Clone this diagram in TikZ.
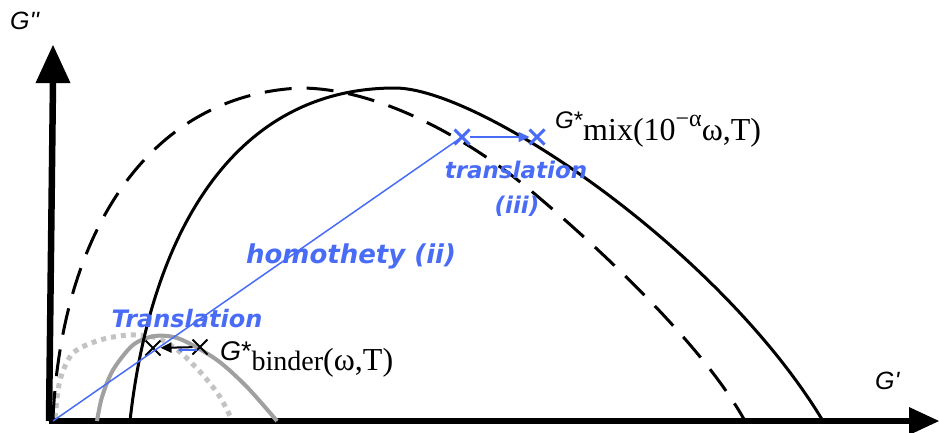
\documentclass[tikz,border=0pt]{standalone}
\usepackage{fontspec}
\setmainfont{Liberation Serif}
\newfontfamily\labelfont{DejaVu Sans}
\newfontfamily\gfont{Liberation Sans}
\usetikzlibrary{shapes.misc,arrows.meta}
\definecolor{bl}{RGB}{72,108,246}
\definecolor{grayA}{RGB}{160,160,160}
\definecolor{grayB}{RGB}{195,195,195}
\begin{document}
\begin{tikzpicture}[x=1pt,y=-1pt,
  axis/.style={line width=6.5pt},
  head/.style={fill=black},
  curve/.style={line width=3pt},
  dashcurve/.style={line width=3pt,dash pattern=on 27pt off 15pt},
  graysolid/.style={grayA,line width=4pt},
  graydot/.style={grayB,line width=5pt,dash pattern=on 5pt off 5pt},
  bluetxt/.style={text=bl,font=\labelfont\bfseries\itshape,inner sep=0pt},
  bxmark/.style={cross out,draw=bl,line width=3pt,minimum size=12pt,inner sep=0pt},
  kxmark/.style={cross out,draw=black,line width=2pt,minimum size=13pt,inner sep=0pt},
  gl/.style={font=\gfont\itshape\fontsize{25}{28}\selectfont,inner sep=0pt},
  math/.style={inner sep=0pt}
]
\useasboundingbox (0,0) rectangle (939,432);
% axes
\coordinate (O) at (53,421);
\coordinate (ytop) at (53,82);
\coordinate (xend) at (910,421);
\draw[axis] (49,421) -- (ytop);
\draw[axis] (49,421) -- (xend);
\fill[head] (53,45) -- (35.5,83) -- (70.5,83) -- cycle;
\fill[head] (939,421) -- (909,407) -- (909,435) -- cycle;
\node[gl,anchor=base west] (Gpp) at (10,29) {G''};
\node[gl,anchor=base west] (Gp) at (875,389) {G'};
% gray curves
\draw[graydot] plot[smooth] coordinates {(55,418) (60,380) (73,353) (100,340) (130,335) (157,338) (180,352) (203,375) (220,397) (232,420)};
\draw[graysolid] plot[smooth] coordinates {(97,421) (102,397) (113,370) (133,345) (155,336) (180,339) (217,360) (247,387) (277,421)};
% dashed curve
\draw[dashcurve] (53,418) .. controls (62,230) and (150,95) .. (300,88)
  .. controls (380,88) and (470,140) .. (530,190)
  .. controls (590,240) and (700,340) .. (745,421);
% solid curve
\draw[curve] (130,421) .. controls (150,240) and (230,88) .. (395,88)
  .. controls (480,88) and (720,250) .. (823,421);
% marks
\node[bxmark] (x1) at (462,137) {};
\node[bxmark] (x2) at (537,137) {};
\node[kxmark] (b1) at (153,348) {};
\node[kxmark] (b2) at (200,347) {};
\coordinate (t1) at (178,350);
\coordinate (t2) at (197,350);
% connectors
\draw[bl,line width=1.5pt] (O) -- (x1.center);
\draw[bl,line width=1.5pt,-{Triangle[length=11pt,width=10pt]}] (x1) -- (x2);
\draw[bl,line width=1.2pt,{Stealth[length=4pt,width=5pt]}-] (t1) -- (t2);
\draw[black,line width=2pt,-{Triangle[length=11pt,width=10pt]}] (b2) -- (b1);
% blue labels
\node[bluetxt,font=\labelfont\bfseries\itshape\fontsize{24}{26}\selectfont] (tr1) at (187,319) {Translation};
\node[bluetxt,font=\labelfont\bfseries\itshape\fontsize{26}{28}\selectfont] (hom) at (351,256) {homothety (ii)};
\node[bluetxt,font=\labelfont\bfseries\itshape\fontsize{23}{25}\selectfont] (tr2) at (516,170) {translation};
\node[bluetxt,font=\labelfont\bfseries\itshape\fontsize{23}{25}\selectfont] (iii) at (517,206) {(iii)};
% formula labels
\node[math,anchor=base west] (Gmix) at (555,140) {\raisebox{12pt}{\gfont\itshape\fontsize{24}{26}\selectfont G\upshape*}\fontsize{32}{34}\selectfont mix(10\raisebox{14pt}{\fontsize{24}{26}\selectfont −α}ω,T)};
\node[math,anchor=base west] (Gbin) at (220,370) {\raisebox{10pt}{\gfont\itshape\fontsize{27}{29}\selectfont G\upshape*}\fontsize{28}{30}\selectfont binder\fontsize{32}{34}\selectfont(ω,T)};
\end{tikzpicture}
\end{document}
